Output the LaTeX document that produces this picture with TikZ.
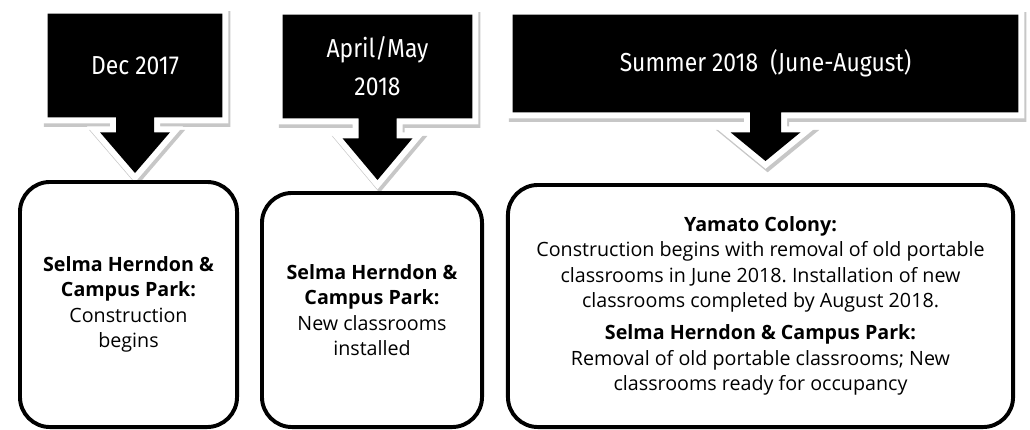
\documentclass[tikz,border=0pt]{standalone}
\usepackage{fontspec}
\setmainfont{Open Sans}
\newfontfamily\datefont[FakeStretch=0.88]{Fira Sans}
\usepackage{tikz}
\usetikzlibrary{calc}
\usetikzlibrary{backgrounds}
\frenchspacing
\tikzstyle{datebox} = [rectangle, minimum height=2.575cm, text centered, align=center, text=white, inner sep=0pt, font=\datefont\fontsize{18.5}{27}\selectfont]
\tikzstyle{stepbox} = [rectangle, rounded corners=0.75cm, draw=black, line width=2.8pt, fill=white, align=center, inner sep=0pt, font=\fontsize{14}{18}\selectfont]
\tikzstyle{callout} = [fill=black, line join=round, preaction={draw=black!22, line width=0.3cm, transform canvas={xshift=1.5pt,yshift=-2.5pt}}, preaction={draw=white, line width=0.3cm}]
% outline of a date box with its down arrow: node, stem half, head top, head half, target box, gap
\newcommand{\arrowpath}[6]{(#1.north west) -- (#1.north east) -- (#1.south east) -- ($(#1.south)+(#2,0)$) -- ($(#1.south)+(#2,#3)$) -- ($(#1.south)+(#4,#3)$) -- ($(#1.south |- #5.north)+(0,-#6)$) -- ($(#1.south)+(-#4,#3)$) -- ($(#1.south)+(-#2,#3)$) -- ($(#1.south)+(-#2,0)$) -- (#1.south west) -- cycle}

\begin{document}
\begin{tikzpicture}[x=0.025cm, y=-0.025cm]
\useasboundingbox (0,0) rectangle (1030,429);

\node (d1) [datebox, minimum width=4.35cm] at (135,65.5) {Dec 2017};
\node (d2) [datebox, minimum width=4.725cm] at (377.5,66.5) {April/May\\2018};
\node (d3) [datebox, minimum width=12.625cm, minimum height=2.425cm] at (765.5,63.5) {Summer 2018\ \ (June-August)};

\node (b1) [stepbox, minimum width=5.425cm, minimum height=6.125cm] at (128.5,304.5) {\textbf{Selma Herndon \&}\\\textbf{Campus Park:}\\Construction\\begins};
\node (b2) [stepbox, minimum width=5.5cm, minimum height=5.85cm] at (372,310) {\textbf{Selma Herndon \&}\\\textbf{Campus Park:}\\New classrooms\\installed};
\node (b3) [stepbox, minimum width=12.625cm, minimum height=6.05cm] at (760.5,306) {\textbf{Yamato Colony:}\\Construction begins with removal of old portable\\classrooms in June 2018. Installation of new\\classrooms completed by August 2018.\\[5pt]\textbf{Selma Herndon \& Campus Park:}\\Removal of old portable classrooms; New\\classrooms ready for occupancy};

\begin{scope}[on background layer]
\path [callout] \arrowpath{d1}{19}{15}{35}{b1}{7};
\path [callout] \arrowpath{d2}{19}{20}{35}{b2}{11};
\path [callout] \arrowpath{d3}{15.5}{20}{35}{b3}{22};
\end{scope}

\end{tikzpicture}
\end{document}
